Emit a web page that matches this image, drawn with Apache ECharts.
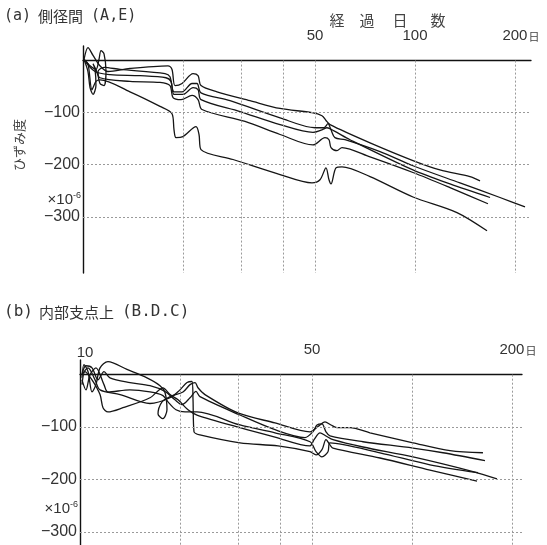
<!DOCTYPE html>
<html><head><meta charset="utf-8">
<script src="https://cdn.jsdelivr.net/npm/echarts/dist/echarts.min.js"></script>
<style>html,body{margin:0;padding:0;background:#fff}#c{width:547px;height:545px}</style>
</head><body><div id="c"></div>
<script>
// ---- tick / grid values ----
const xGridDays = [20, 30, 40, 50, 100, 200];
const yGridValues = [-100, -200, -300];
const xLabelsA = [50, 100, 200];
const xLabelsB = [50, 200];
const yLabels = [-100, -200, -300];

// ---- (a) 側径間 (A,E): [elapsed days, strain ×10^-6] ----
const curveA1 = [[10.07,2],[10.35,25],[10.72,10],[11.25,-10],[11.89,-21],[13.85,-15],[18.03,-10],[18.54,-17],[18.93,-48],[19.88,-44],[21.45,-25],[22.21,-29],[22.67,-48],[25.33,-60],[31.84,-77],[39.22,-92],[48.95,-100],[52.47,-106],[53.94,-115],[55.46,-123],[73.21,-158],[98.6,-192],[118.9,-210],[146.4,-223],[157,-231]];
const curveA2 = [[10.07,2],[10.5,-10],[10.94,-17],[11.17,2],[11.33,19],[11.57,13],[11.73,-21],[11.57,-48],[11.25,-44],[11.10,-21],[11.57,-13],[12.93,-17],[17.66,-25],[18.28,-31],[18.80,-60],[19.88,-60],[21.30,-44],[22.05,-44],[22.67,-62],[27.72,-77],[39.22,-110],[50,-129],[53.2,-129],[54.7,-121],[55.85,-133],[57.4,-148],[61.55,-152],[78.46,-175],[98.6,-202],[136.6,-235],[180.3,-263],[214.5,-281]];
const curveA3 = [[10.07,2],[10.87,-21],[12.06,-27],[14.85,-29],[17.78,-33],[18.41,-40],[18.80,-65],[20.0,-65],[21.45,-52],[22.21,-56],[22.67,-75],[29.71,-98],[39.22,-123],[49.29,-138],[52.47,-133],[54.31,-129],[57.02,-135],[63.72,-152],[98.6,-210],[127.5,-237],[168.3,-263]];
const curveA4 = [[10.07,2],[10.35,-21],[10.5,-52],[10.72,-65],[10.94,-48],[10.87,-17],[10.72,-6],[10.94,-17],[11.25,-33],[13.85,-40],[17.06,-42],[18.28,-48],[18.67,-71],[19.74,-75],[21.30,-67],[22.21,-75],[22.83,-94],[30.76,-117],[39.22,-142],[49.29,-162],[53.57,-148],[55.08,-152],[55.85,-167],[58.22,-173],[60.28,-167],[73.21,-185],[98.6,-215],[127.5,-244],[165.9,-275]];
const curveA5 = [[10.07,2],[10.35,-6],[10.64,-56],[10.94,-40],[11.25,-37],[13.85,-60],[17.06,-88],[18.54,-102],[18.80,-133],[19.06,-148],[20.0,-146],[21.9,-127],[22.36,-142],[22.67,-171],[28.3,-190],[39.22,-219],[48.95,-235],[51.75,-229],[53.94,-206],[55.08,-229],[55.85,-237],[57.81,-206],[60.28,-204],[73.21,-223],[98.6,-262],[133.8,-292],[164.8,-327]];

// ---- (b) 内部支点上 (B.D.C) ----
const curveB1 = [[10.14,-6],[10.28,19],[10.57,6],[10.87,-33],[11.17,-19],[11.49,13],[12.14,25],[13.85,10],[15.91,-6],[17.42,-21],[18.03,-34],[18.28,-67],[17.78,-84],[17.18,-75],[17.66,-52],[18.67,-42],[20.43,-33],[21.45,-19],[22.21,-15],[22.67,-25],[23.79,-38],[29.91,-73],[38.67,-92],[49.29,-109],[52.11,-99],[54.70,-90],[57.02,-96],[59.44,-101],[65.06,-101],[74.72,-111],[100.7,-130],[130.2,-145],[163.6,-149]];
const curveB2 = [[10.14,0],[10.42,17],[10.87,13],[11.33,-10],[11.81,6],[12.31,-6],[14.14,-15],[16.25,-21],[18.03,-32],[19.32,-48],[20.29,-57],[21.45,-44],[22.36,-32],[22.98,-42],[30.33,-77],[38.67,-105],[47.61,-120],[50.3,-109],[51.75,-96],[53.57,-94],[55.08,-109],[56.62,-117],[71.18,-128],[100.7,-140],[124.0,-149],[165.9,-164]];
const curveB3 = [[10.14,-10],[10.42,-29],[10.72,0],[11.17,13],[11.81,-19],[12.14,-33],[14.14,-29],[16.25,-33],[17.78,-40],[18.41,-52],[19.46,-67],[20.72,-71],[22.51,-71],[30.33,-96],[38.67,-111],[49.29,-128],[51.4,-147],[53.57,-157],[55.85,-147],[56.62,-130],[80.11,-149],[113.3,-172],[158.1,-187]];
const curveB4 = [[10.14,-19],[10.35,6],[10.87,-10],[11.49,-38],[11.73,-63],[12.14,-71],[13.47,-63],[16.25,-44],[17.78,-25],[18.67,-38],[19.74,-48],[21.15,-67],[22.51,-77],[30.33,-101],[38.67,-119],[49.29,-136],[50.7,-124],[52.84,-111],[55.08,-117],[57.81,-124],[71.18,-138],[100.7,-157],[152.7,-185],[180.3,-199]];
const curveB5 = [[10.14,0],[10.57,13],[11.10,-10],[11.49,-29],[13.20,-38],[16.25,-55],[18.67,-44],[20.0,-29],[21.01,-15],[21.75,-13],[21.90,-48],[22.05,-109],[22.98,-115],[30.33,-130],[39.48,-136],[49.29,-147],[51.4,-153],[53.57,-143],[55.08,-124],[56.62,-134],[57.81,-140],[80.11,-159],[113.3,-182],[157.0,-203]];

const A = {xmin:10, xmax:223.6, ymin:-408, ymax:28};
const B = {xmin:10, xmax:214.5, ymin:-325, ymax:28};
const FONT = 'Liberation Sans';
const MONO = '"DejaVu Sans Mono"';
const JP = '"Noto Sans CJK JP"';

function xAxisDef(gi, r, labels) {
  return {
    type:'log', logBase:10, gridIndex:gi, min:r.xmin, max:r.xmax, position:'top',
    axisLine:{show:true, onZero:true, lineStyle:{color:'#111', width:1.3}},
    axisTick:{show:false}, splitLine:{show:false}, minorTick:{show:false}, minorSplitLine:{show:false},
    axisLabel:{
      customValues: labels, margin:3, color:'#333', fontSize:15, fontFamily:FONT,
      formatter: v => (Math.round(v) === 200 ? '{n|200}{u|日}' : String(Math.round(v))),
      rich:{ n:{fontSize:15, fontFamily:FONT, color:'#333', padding:[0,0,0,12]},
             u:{fontSize:11, fontFamily:JP, color:'#444', padding:[2,0,0,1]} }
    }
  };
}
function yAxisDef(gi, r) {
  return {
    type:'value', gridIndex:gi, min:r.ymin, max:r.ymax,
    axisLine:{show:true, onZero:false, lineStyle:{color:'#111', width:1.4}},
    axisTick:{show:false}, splitLine:{show:false},
    axisLabel:{customValues: yLabels, margin:3, color:'#333', fontSize:16, fontFamily:FONT,
      formatter: v => '−' + Math.abs(v)}
  };
}
function gridLines(r) {
  return {
    silent:true, symbol:['none','none'], animation:false, label:{show:false},
    lineStyle:{color:'#9a9a9a', type:[2,2], width:1},
    emphasis:{disabled:true},
    data: [
      ...xGridDays.map(d => [{coord:[d, 0]}, {coord:[d, r.ymin]}]),
      ...yGridValues.map(v => [{coord:[r.xmin, v]}, {coord:[r.xmax, v]}])
    ]
  };
}
function curve(data, gi, r, withGrid) {
  const s = {
    type:'line', xAxisIndex:gi, yAxisIndex:gi, data:data, symbol:'none', showSymbol:false,
    smooth:0.3, clip:false, animation:false, silent:true,
    lineStyle:{color:'#151515', width:1.3}
  };
  if (withGrid) s.markLine = gridLines(r);
  return s;
}

const chart = echarts.init(document.getElementById('c'), null, {renderer:'canvas'});
chart.setOption({
  backgroundColor:'#fff',
  animation:false,
  grid:[
    {left:83, top:46, width:448, height:227},
    {left:80, top:360, width:442, height:185}
  ],
  xAxis:[xAxisDef(0, A, xLabelsA), xAxisDef(1, B, xLabelsB)],
  yAxis:[yAxisDef(0, A), yAxisDef(1, B)],
  series:[
    curve(curveA1,0,A,true), curve(curveA2,0,A), curve(curveA3,0,A), curve(curveA4,0,A), curve(curveA5,0,A),
    curve(curveB1,1,B,true), curve(curveB2,1,B), curve(curveB3,1,B), curve(curveB4,1,B), curve(curveB5,1,B)
  ],
  graphic:[
    {type:'text', left:4, top:9, style:{text:'{m|(a)}{j|側径間}{m|(A,E)}',
      rich:{m:{font:'15px '+MONO, fill:'#333'}, j:{font:'15px '+JP, fill:'#333', padding:[0,8,0,7]}}}},
    {type:'text', x:337, y:20, style:{text:'経', font:'15px '+JP, fill:'#444', align:'center', verticalAlign:'middle'}},
    {type:'text', x:367, y:20, style:{text:'過', font:'15px '+JP, fill:'#444', align:'center', verticalAlign:'middle'}},
    {type:'text', x:400, y:20, style:{text:'日', font:'15px '+JP, fill:'#444', align:'center', verticalAlign:'middle'}},
    {type:'text', x:438, y:20, style:{text:'数', font:'15px '+JP, fill:'#444', align:'center', verticalAlign:'middle'}},
    {type:'text', x:19, y:145, rotation:Math.PI/2, style:{text:'ひずみ度', font:'13px '+JP, fill:'#444', align:'center', verticalAlign:'middle'}},
    {type:'text', x:81, y:200, style:{text:'{a|×10}{s|-6}', align:'right', verticalAlign:'middle',
      rich:{a:{font:'15px '+FONT, fill:'#333'}, s:{font:'9px '+FONT, fill:'#333', padding:[0,0,8,0]}}}},
    {type:'text', left:4, top:304, style:{text:'{m|(b)}{j|内部支点上}{m|(B.D.C)}',
      rich:{m:{font:'16px '+MONO, fill:'#333'}, j:{font:'15px '+JP, fill:'#333', padding:[0,8,0,6]}}}},
    {type:'text', x:85, y:353, style:{text:'10', font:'15px '+FONT, fill:'#333', align:'center', verticalAlign:'middle'}},
    {type:'text', x:78, y:509, style:{text:'{a|×10}{s|-6}', align:'right', verticalAlign:'middle',
      rich:{a:{font:'15px '+FONT, fill:'#333'}, s:{font:'9px '+FONT, fill:'#333', padding:[0,0,8,0]}}}}
  ]
});
</script>
</body></html>
